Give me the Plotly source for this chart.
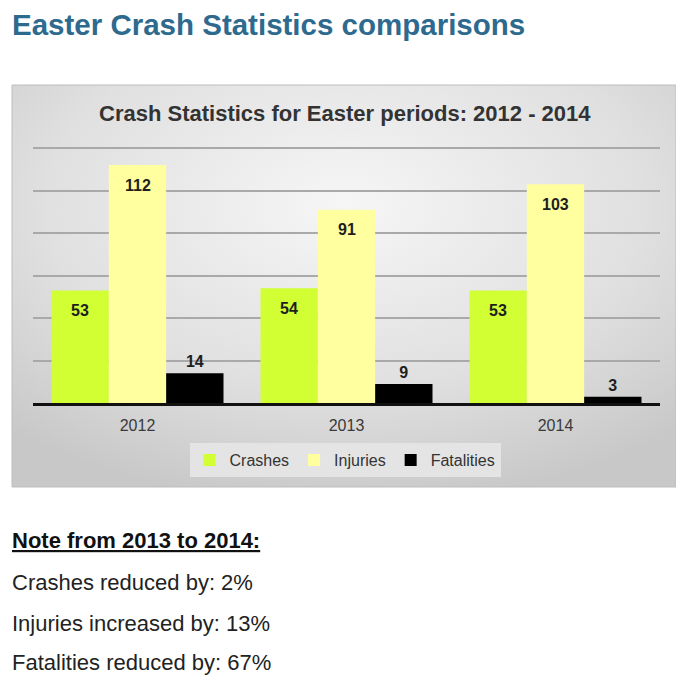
import base64
import plotly.graph_objects as go

# Easter-period crash figures
years = ["2012", "2013", "2014"]
crashes = [53, 54, 53]
injuries = [112, 91, 103]
fatalities = [14, 9, 3]

series_names = ["Crashes", "Injuries", "Fatalities"]
series_colors = ["#d2ff33", "#ffffa0", "#000000"]

notes_heading = "Note from 2013 to 2014:"
notes = [
    "Crashes reduced by: 2%",
    "Injuries increased by: 13%",
    "Fatalities reduced by: 67%",
]

W, H = 676, 677
BARGAP = 0.177
FONT = "Liberation Sans, Arial, sans-serif"


def px_x(x):
    return x / W


def px_y(y):
    return 1 - y / H


fig = go.Figure()
for name, vals, col in zip(series_names, [crashes, injuries, fatalities], series_colors):
    outside = name == "Fatalities"
    fig.add_trace(go.Bar(
        x=years, y=vals, name=name,
        marker=dict(color=col, line=dict(width=0)),
        text=[f"<b>{v}</b>" for v in vals] if outside else None,
        textposition="outside" if outside else None,
        textfont=dict(family=FONT, size=16, color="#1e1e1e"),
        cliponaxis=False,
    ))

# value labels sitting just inside the top of the taller bars
annotations = []
slot = (1 - BARGAP) / 3
for k, vals in enumerate([crashes, injuries]):
    for i, v in enumerate(vals):
        annotations.append(dict(
            x=i + (k - 1) * slot, y=v, xref="x", yref="y",
            text=f"<b>{v}</b>", showarrow=False, yshift=-20,
            font=dict(family=FONT, size=16, color="#1e1e1e"),
        ))

# page heading, chart heading and notes
annotations.append(dict(
    x=px_x(10), y=px_y(24), xref="paper", yref="paper", xanchor="left", yanchor="middle",
    text="<b>Easter Crash Statistics comparisons</b>", showarrow=False,
    font=dict(family=FONT, size=29.5, color="#2e6a8e"),
))
annotations.append(dict(
    x=px_x(345), y=px_y(113), xref="paper", yref="paper", xanchor="center", yanchor="middle",
    text="<b>Crash Statistics for Easter periods: 2012 - 2014</b>", showarrow=False,
    font=dict(family=FONT, size=22, color="#333333"),
))
note_y = [540, 582, 623, 662]
annotations.append(dict(
    x=px_x(10), y=px_y(note_y[0]), xref="paper", yref="paper", xanchor="left", yanchor="middle",
    text=f"<u><b>{notes_heading}</b></u>", showarrow=False,
    font=dict(family=FONT, size=22, color="#111111"),
))
for line, yy in zip(notes, note_y[1:]):
    annotations.append(dict(
        x=px_x(10), y=px_y(yy), xref="paper", yref="paper", xanchor="left", yanchor="middle",
        text=line, showarrow=False,
        font=dict(family=FONT, size=22, color="#222222"),
    ))

# grey panel with soft radial shading behind the chart
panel_w, panel_h = W - 12, 402
svg = (
    f'<svg xmlns="http://www.w3.org/2000/svg" width="{panel_w}" height="{panel_h}">'
    '<defs><radialGradient id="g" cx="0.5" cy="0.3" r="0.75">'
    '<stop offset="0" stop-color="#f6f6f6"/><stop offset="0.6" stop-color="#e0e0e0"/>'
    '<stop offset="1" stop-color="#c8c8c8"/></radialGradient></defs>'
    f'<rect width="{panel_w}" height="{panel_h}" fill="url(#g)"/></svg>'
)
panel_src = "data:image/svg+xml;base64," + base64.b64encode(svg.encode()).decode()

fig.update_layout(
    width=W, height=H,
    margin=dict(l=0, r=0, t=0, b=0),
    paper_bgcolor="white",
    plot_bgcolor="rgba(0,0,0,0)",
    barmode="group",
    bargap=BARGAP,
    bargroupgap=0,
    showlegend=True,
    legend=dict(
        orientation="h", x=px_x(345), y=px_y(460), xanchor="center", yanchor="middle",
        bgcolor="#e4e4e4", font=dict(family=FONT, size=16, color="#333333"),
        itemwidth=30, traceorder="normal",
    ),
    xaxis=dict(
        domain=[px_x(33), px_x(660)], showline=True, linecolor="#111111", linewidth=3,
        ticks="", ticklabelstandoff=6, showgrid=False,
        tickfont=dict(family=FONT, size=16, color="#3a3a3a"),
        fixedrange=True,
    ),
    yaxis=dict(
        domain=[px_y(403), px_y(147)], range=[0, 120.5], tickvals=[20, 40, 60, 80, 100, 120],
        showgrid=True, gridcolor="#a9a9a9", gridwidth=1.5,
        showticklabels=False, zeroline=False, fixedrange=True,
    ),
    annotations=annotations,
    images=[dict(
        source=panel_src, xref="paper", yref="paper",
        x=px_x(12), y=px_y(85), sizex=panel_w / W, sizey=panel_h / H,
        sizing="stretch", layer="below", xanchor="left", yanchor="top",
    )],
    shapes=[dict(
        type="rect", xref="paper", yref="paper",
        x0=px_x(12), x1=1, y0=px_y(487), y1=px_y(85),
        line=dict(color="#bdbdbd", width=1), layer="below",
    )],
)

fig.write_html("out.html")
